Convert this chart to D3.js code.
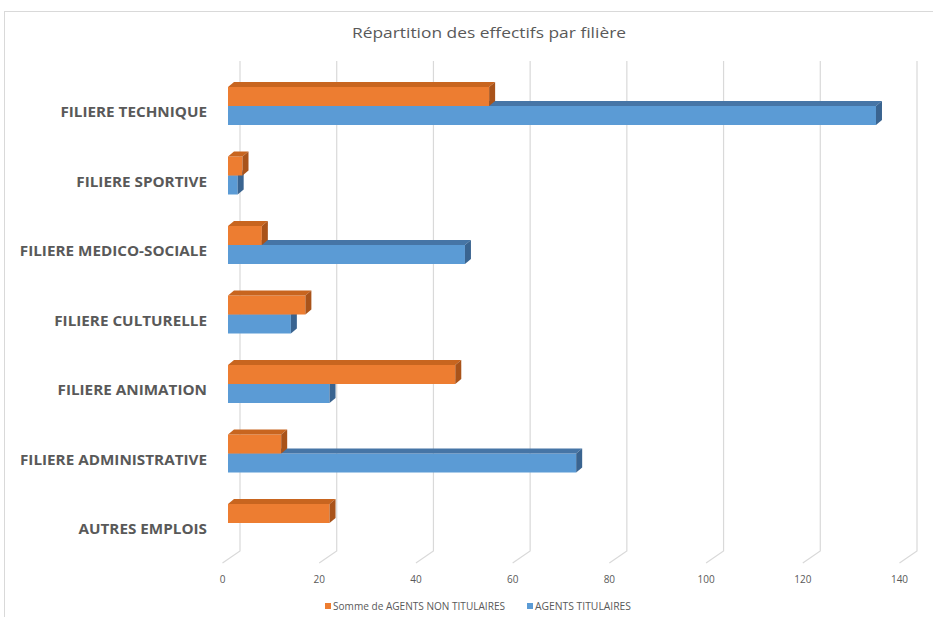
<!DOCTYPE html>
<html>
<head>
<meta charset="utf-8">
<script src="https://cdn.jsdelivr.net/npm/d3@7"></script>
<style>
  html, body { margin: 0; padding: 0; background: #ffffff; }
  svg { display: block; font-family: "Open Sans", "Noto Sans", sans-serif; }
</style>
</head>
<body>
<svg id="chart" width="933" height="617"></svg>
<script>
// ---- Data ----
const title = "Répartition des effectifs par filière";
const categories = [
  "FILIERE TECHNIQUE",
  "FILIERE SPORTIVE",
  "FILIERE MEDICO-SOCIALE",
  "FILIERE CULTURELLE",
  "FILIERE ANIMATION",
  "FILIERE ADMINISTRATIVE",
  "AUTRES EMPLOIS"
];
const seriesNames = ["Somme de AGENTS NON TITULAIRES", "AGENTS TITULAIRES"];
const nonTitulaires = [54, 3, 7, 16, 47, 11, 21];
const titulaires = [134, 2, 49, 13, 21, 72, 0];
const tickValues = [0, 20, 40, 60, 80, 100, 120, 140];

// ---- Styles ----
const orange = { front: "#ED7D31", top: "#c8651f", side: "#a9531a" };
const blue = { front: "#5B9BD5", top: "#4675a6", side: "#3a6490" };
const textColor = "#595959";
const gridColor = "#d9d9d9";

const svg = d3.select("#chart");

// Chart area border
svg.append("rect")
  .attr("x", 4.5).attr("y", 11.5)
  .attr("width", 1000).attr("height", 700)
  .attr("fill", "#fff")
  .attr("stroke", "#d9d9d9").attr("stroke-width", 1);

// Title
const titleText = svg.append("text")
  .attr("x", 489).attr("y", 32)
  .attr("text-anchor", "middle")
  .attr("dominant-baseline", "central")
  .attr("font-size", 14)
  .attr("fill", textColor)
  .text(title);
titleText.attr("textLength", 274).attr("lengthAdjust", "spacingAndGlyphs");

// ---- Scales ----
const x = d3.scaleLinear().domain([0, 140]).range([228, 905]); // bar front plane
const y = d3.scaleBand().domain(categories).range([71.25, 71.25 + 7 * 69.5]);
const yc = c => y(c) + y.bandwidth() / 2;

// 3D offsets
const backDx = 12, wallTop = 61, wallBottom = 551;
const floorDx = -17.5, floorDy = 12;
const depthDx = 6, depthDy = -5;
const barH = 19;

// Gridlines (back wall + floor slant)
const grid = svg.append("g");
tickValues.forEach(v => {
  const bx = x(v) + backDx;
  grid.append("path")
    .attr("d", `M${bx},${wallTop}L${bx},${wallBottom}L${bx + floorDx},${wallBottom + floorDy}`)
    .attr("fill", "none")
    .attr("stroke", gridColor)
    .attr("stroke-width", 1.2);
});

// Tick labels
svg.append("g").selectAll("text")
  .data(tickValues).join("text")
  .attr("x", d => x(d) + backDx + floorDx)
  .attr("y", 579)
  .attr("text-anchor", "middle")
  .attr("dominant-baseline", "central")
  .attr("font-size", 10)
  .attr("fill", textColor)
  .text(d => d);

// ---- Bars ----
function bar3d(g, v, yTop, col) {
  if (v <= 0) return;
  const x0 = x(0), x1 = x(v), y0 = yTop, y1 = yTop + barH;
  g.append("rect")
    .attr("x", x0).attr("y", y0)
    .attr("width", x1 - x0).attr("height", barH)
    .attr("fill", col.front);
  g.append("path")
    .attr("d", `M${x0},${y0}L${x1},${y0}L${x1 + depthDx},${y0 + depthDy}L${x0 + depthDx},${y0 + depthDy}Z`)
    .attr("fill", col.top);
  g.append("path")
    .attr("d", `M${x1},${y0}L${x1 + depthDx},${y0 + depthDy}L${x1 + depthDx},${y1 + depthDy}L${x1},${y1}Z`)
    .attr("fill", col.side);
}

const barsG = svg.append("g");
categories.forEach((c, i) => {
  const g = barsG.append("g");
  bar3d(g, titulaires[i], yc(c), blue);
  bar3d(g, nonTitulaires[i], yc(c) - barH, orange);
});

// ---- Category labels ----
const labels = svg.append("g").selectAll("text")
  .data(categories).join("text")
  .attr("x", 207)
  .attr("y", d => yc(d) + 5)
  .attr("text-anchor", "end")
  .attr("dominant-baseline", "central")
  .attr("font-size", 15)
  .attr("font-weight", 700)
  .attr("fill", textColor)
  .text(d => d);
// horizontally condense to match the reference's narrow font
let refW = 0;
labels.each(function(d) { if (d === "FILIERE ADMINISTRATIVE") refW = this.getComputedTextLength(); });
const sx = refW > 0 ? 187 / refW : 1;
labels.each(function() {
  const w = this.getComputedTextLength();
  d3.select(this).attr("textLength", w * sx).attr("lengthAdjust", "spacingAndGlyphs");
});

// ---- Legend ----
const legend = svg.append("g");
const legendItems = [
  { name: seriesNames[0], color: orange.front, sx: 325, tx: 333, w: 172 },
  { name: seriesNames[1], color: blue.front, sx: 527, tx: 535, w: 96 }
];
legendItems.forEach(it => {
  legend.append("rect")
    .attr("x", it.sx).attr("y", 603)
    .attr("width", 6).attr("height", 6)
    .attr("fill", it.color);
  legend.append("text")
    .attr("x", it.tx).attr("y", 606)
    .attr("dominant-baseline", "central")
    .attr("font-size", 10)
    .attr("fill", textColor)
    .attr("textLength", it.w)
    .attr("lengthAdjust", "spacingAndGlyphs")
    .text(it.name);
});
</script>
</body>
</html>
